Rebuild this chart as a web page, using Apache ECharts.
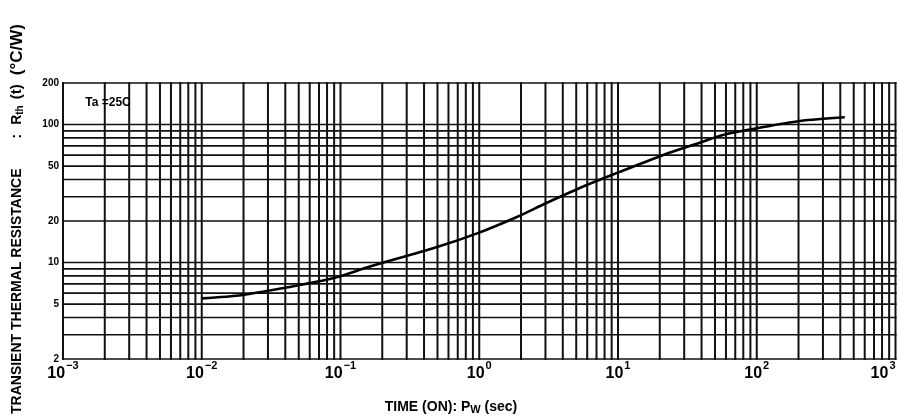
<!DOCTYPE html>
<html>
<head>
<meta charset="utf-8">
<script src="https://cdn.jsdelivr.net/npm/echarts@6/dist/echarts.min.js"></script>
<style>
html,body{margin:0;padding:0;background:#fff;}
#chart{width:900px;height:420px;}
</style>
</head>
<body>
<div id="chart"></div>
<script>
// ---- data ----
const timeValues = [0.01, 0.0197, 0.0407, 0.088, 0.163, 0.49, 0.955, 1.85, 3.05, 5.9, 10.3, 21, 38.8, 57, 99.5, 204, 431];
const rthValues  = [5.5, 5.82, 6.6, 7.7, 9.35, 12.9, 16.2, 21.3, 27.0, 36.3, 45.4, 60.0, 73.8, 84.0, 93.8, 106, 112.8];
const xTickDecades = [0.001, 0.01, 0.1, 1, 10, 100, 1000];
const yTickLabels = [200, 100, 50, 20, 10, 5, 2];
const xGridMultipliers = [1, 2, 3, 4, 5, 6, 7, 8, 9];
const yGridValues = [2, 3, 4, 5, 6, 7, 8, 9, 10, 20, 30, 40, 50, 60, 70, 80, 90, 100, 200];
const annotationText = 'Ta =25C';

const X_MIN = 0.001, X_MAX = 1000, Y_MIN = 2, Y_MAX = 200;
const curveData = timeValues.map((t, i) => [t, rthValues[i]]);

// grid line positions on the log scales
const vGridValues = [];
xTickDecades.forEach((d, k) => {
  if (k === xTickDecades.length - 1) { vGridValues.push(d); return; }
  xGridMultipliers.forEach(m => vGridValues.push(+(d * m).toPrecision(3)));
});

const FONT = "'Liberation Sans',Arial,Helvetica,sans-serif";
const NARROW = "'Liberation Sans Narrow','Liberation Sans',Arial,sans-serif";

const chart = echarts.init(document.getElementById('chart'), null, { renderer: 'canvas' });

chart.setOption({
  animation: false,
  backgroundColor: '#fff',
  grid: { left: 63, right: 4.5, top: 83, bottom: 61, containLabel: false, outerBoundsMode: 'none' },
  xAxis: {
    type: 'log', logBase: 10, min: X_MIN, max: X_MAX, interval: 1,
    axisLine: { show: false }, axisTick: { show: false }, splitLine: { show: false },
    axisLabel: {
      show: true, margin: 1, color: '#000', showMinLabel: true, showMaxLabel: true, hideOverlap: false,
      alignMaxLabel: 'right',
      formatter: function (v) {
        const e = Math.round(Math.log10(v));
        const s = e < 0 ? '\u2212' + (-e) : String(e);
        return '{b|10}{s|' + s + '}';
      },
      rich: {
        b: { fontSize: 16, fontWeight: 'bold', fontFamily: FONT, color: '#000', lineHeight: 22, verticalAlign: 'bottom' },
        s: { fontSize: 11, fontWeight: 'bold', fontFamily: FONT, color: '#000', lineHeight: 22, verticalAlign: 'top', padding: [0, 0, 0, 1] }
      }
    }
  },
  yAxis: {
    type: 'log', logBase: 10, min: Y_MIN, max: Y_MAX,
    axisLine: { show: false }, axisTick: { show: false }, splitLine: { show: false },
    axisLabel: { show: false }
  },
  series: [
    {
      name: 'vgrid', type: 'custom', silent: true, z: 1,
      data: vGridValues.map(v => [v, Y_MIN]),
      renderItem: function (params, api) {
        const x = api.value(0);
        const p1 = api.coord([x, Y_MIN]);
        const p2 = api.coord([x, Y_MAX]);
        return { type: 'line', shape: { x1: p1[0], y1: p1[1] + 1, x2: p2[0], y2: p2[1] - 1 },
                 style: { stroke: '#111', lineWidth: 2 } };
      }
    },
    {
      name: 'hgrid', type: 'custom', silent: true, z: 1,
      data: yGridValues.map(v => [X_MIN, v]),
      renderItem: function (params, api) {
        const y = api.value(1);
        const p1 = api.coord([X_MIN, y]);
        const p2 = api.coord([X_MAX, y]);
        return { type: 'line', shape: { x1: p1[0] - 1, y1: p1[1], x2: p2[0] + 1, y2: p2[1] },
                 style: { stroke: '#111', lineWidth: 1.6 } };
      }
    },
    {
      name: 'ylabels', type: 'custom', silent: true, z: 2,
      data: yTickLabels.map(v => [X_MIN, v]),
      renderItem: function (params, api) {
        const v = api.value(1);
        const p = api.coord([X_MIN, v]);
        return { type: 'text', x: p[0] - 4, y: p[1],
                 style: { text: String(v), textAlign: 'right', textVerticalAlign: 'middle',
                          fill: '#000', font: 'bold 10px ' + NARROW } };
      }
    },
    {
      name: 'Rth', type: 'line', data: curveData, smooth: 0.3, symbol: 'none', z: 5,
      lineStyle: { color: '#000', width: 2.6 }
    }
  ],
  graphic: [
    {
      type: 'text', x: 17, y: 414, rotation: Math.PI / 2,
      style: {
        text: 'TRANSIENT THERMAL RESISTANCE{c|:}R{sub|th}{t|(t)}{u|(\u00B0C/W)}',
        font: 'bold 14px ' + FONT,
        fill: '#000', textAlign: 'left', textVerticalAlign: 'middle',
        rich: {
          c: { fontSize: 14, fontWeight: 'bold', fontFamily: FONT, fill: '#000', padding: [0, 9, 0, 30] },
          sub: { fontSize: 10, fontWeight: 'bold', fontFamily: FONT, fill: '#000', padding: [6, 0, 0, 0] },
          t: { fontSize: 15, fontWeight: 'bold', fontFamily: FONT, fill: '#000', padding: [0, 0, 0, 6] },
          u: { fontSize: 17, fontWeight: 'bold', fontFamily: FONT, fill: '#000', padding: [0, 0, 0, 9] }
        }
      }
    },
    {
      type: 'text', x: 451, y: 407,
      style: {
        text: 'TIME (ON): P{sub|W} (sec)',
        font: 'bold 14px ' + FONT,
        fill: '#000', textAlign: 'center', textVerticalAlign: 'middle',
        rich: { sub: { fontSize: 11, fontWeight: 'bold', fontFamily: FONT, fill: '#000', padding: [5, 0, 0, 0] } }
      }
    },
    {
      type: 'text', x: 108, y: 103, z: 10,
      style: {
        text: annotationText,
        font: 'bold 12px ' + FONT,
        fill: '#000', textAlign: 'center', textVerticalAlign: 'middle'
      }
    }
  ]
});
</script>
</body>
</html>
